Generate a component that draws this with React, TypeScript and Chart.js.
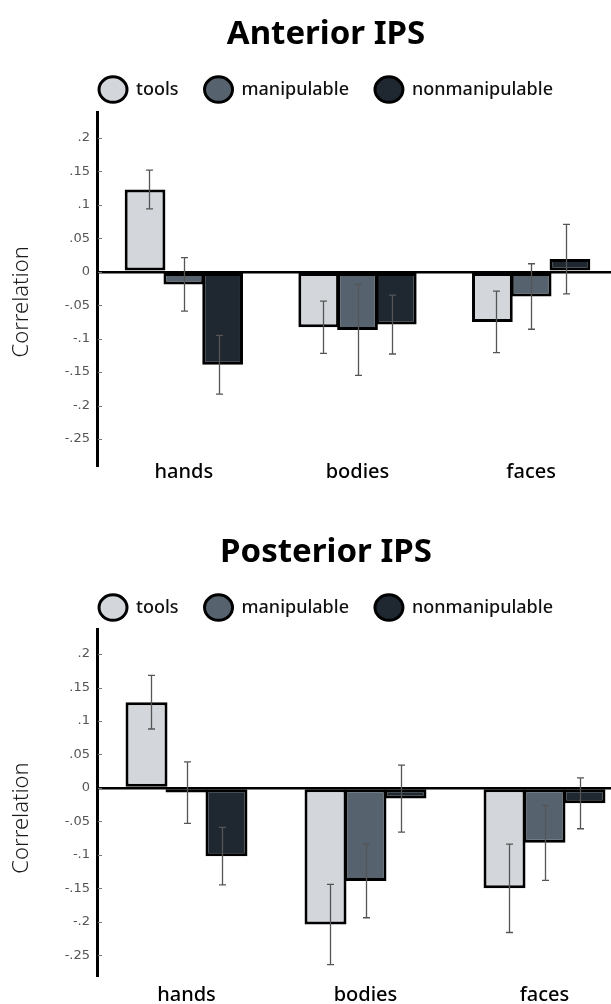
import React, { useEffect, useRef } from 'react';
import { Chart, registerables } from 'chart.js';

Chart.register(...registerables);

// ---------- data ----------
const categories = ['hands', 'bodies', 'faces'];
const seriesNames = ['tools', 'manipulable', 'nonmanipulable'];

const anteriorTools = [0.123, -0.083, -0.075];
const anteriorManipulable = [-0.019, -0.087, -0.037];
const anteriorNonmanipulable = [-0.139, -0.079, 0.019];
const anteriorToolsErr = [0.029, 0.039, 0.046];
const anteriorManipulableErr = [0.040, 0.068, 0.049];
const anteriorNonmanipulableErr = [0.044, 0.044, 0.052];

const posteriorTools = [0.128, -0.204, -0.150];
const posteriorManipulable = [-0.007, -0.139, -0.082];
const posteriorNonmanipulable = [-0.102, -0.016, -0.023];
const posteriorToolsErr = [0.040, 0.060, 0.066];
const posteriorManipulableErr = [0.046, 0.055, 0.056];
const posteriorNonmanipulableErr = [0.043, 0.050, 0.038];

const yTickValues = [-0.25, -0.2, -0.15, -0.1, -0.05, 0, 0.05, 0.1, 0.15, 0.2];
const yTickLabels = ['-.25', '-.2', '-.15', '-.1', '-.05', '0', '.05', '.1', '.15', '.2'];

const yTitle = 'Correlation';

// ---------- styles ----------
const seriesColors = ['#d3d6db', '#56636f', '#1f2731'];
const FONT = 'Noto Sans';
const CANVAS_W = 652;
const BAR_PCT = 1.05;
const CAT_PCT = 0.67;

type PanelProps = {
  title: string;
  values: number[][];
  errors: number[][];
  yMin: number;
  yMax: number;
  top: number;
  height: number;
  rightGap: number;
  bottomPad: number;
  xLabelPad: number;
  spacer: number;
  axisExtend: number;
};

function Panel(p: PanelProps) {
  const ref = useRef<HTMLCanvasElement | null>(null);

  useEffect(() => {
    const canvas = ref.current;
    if (!canvas) return;

    const extras = {
      id: 'extras',
      afterDatasetsDraw(chart: any) {
        const ctx = chart.ctx;
        const yScale = chart.scales.y;
        ctx.save();
        ctx.strokeStyle = '#555';
        ctx.lineWidth = 1.3;
        p.values.forEach((series, i) => {
          const meta = chart.getDatasetMeta(i);
          const shift = (1 - i) * 4;
          meta.data.forEach((bar: any, j: number) => {
            const v = series[j];
            const e = p.errors[i][j];
            const x = Math.round(bar.x + shift) + 0.5;
            const y1 = yScale.getPixelForValue(v + e);
            const y2 = yScale.getPixelForValue(v - e);
            ctx.beginPath();
            ctx.moveTo(x, y1);
            ctx.lineTo(x, y2);
            ctx.moveTo(x - 3.5, y1);
            ctx.lineTo(x + 3.5, y1);
            ctx.moveTo(x - 3.5, y2);
            ctx.lineTo(x + 3.5, y2);
            ctx.stroke();
          });
        });
        ctx.restore();
      },
      afterDraw(chart: any) {
        const ctx = chart.ctx;
        const yScale = chart.scales.y;
        const { left, bottom } = chart.chartArea;
        ctx.save();
        // small inner tick marks on the y axis
        ctx.strokeStyle = '#777';
        ctx.lineWidth = 1;
        yTickValues.forEach((v) => {
          const y = Math.round(yScale.getPixelForValue(v)) + 0.5;
          ctx.beginPath();
          ctx.moveTo(left + 1, y);
          ctx.lineTo(left + 5, y);
          ctx.stroke();
        });
        // y axis line continues a little below the plot
        if (p.axisExtend > 0) {
          const ax = Math.round(left - 1.5) + 1.5;
          ctx.strokeStyle = '#000';
          ctx.lineWidth = 3;
          ctx.beginPath();
          ctx.moveTo(ax, bottom - 1);
          ctx.lineTo(ax, bottom + p.axisExtend);
          ctx.stroke();
        }
        // axis title
        ctx.translate(22, yScale.getPixelForValue(-0.045));
        ctx.rotate(-Math.PI / 2);
        ctx.textAlign = 'center';
        ctx.textBaseline = 'middle';
        ctx.fillStyle = '#1a1a1a';
        ctx.font = `300 22px "${FONT}"`;
        ctx.fillText(yTitle, 0, 0);
        ctx.restore();
      },
    };

    const chart = new Chart(canvas, {
      type: 'bar',
      data: {
        labels: categories,
        datasets: seriesNames.map((name, i) => ({
          label: name,
          data: p.values[i],
          backgroundColor: seriesColors[i],
          borderColor: '#000',
          borderWidth: 3,
          borderSkipped: false,
          inflateAmount: 0,
          barPercentage: BAR_PCT,
          categoryPercentage: CAT_PCT,
        })),
      },
      options: {
        responsive: false,
        animation: false,
        events: [],
        datasets: { bar: { barPercentage: BAR_PCT, categoryPercentage: CAT_PCT } },
        layout: { padding: { top: 8, right: 0, bottom: p.bottomPad, left: 0 } },
        plugins: {
          title: {
            display: true,
            text: p.title,
            color: '#000',
            font: { family: FONT, size: 33, weight: 'bold' },
            padding: { top: 7, bottom: 0 },
          },
          subtitle: {
            display: true,
            text: '',
            weight: 500,
            font: { size: 1, lineHeight: 1 },
            padding: { top: p.spacer, bottom: 0 },
          },
          legend: {
            display: true,
            labels: {
              usePointStyle: true,
              pointStyle: 'circle',
              pointStyleWidth: 28,
              boxHeight: 18,
              padding: 26,
              color: '#111',
              font: { family: FONT, size: 18, weight: '500' },
            },
          },
          tooltip: { enabled: false },
        },
        scales: {
          x: {
            grid: { display: false },
            border: { display: false },
            ticks: {
              color: '#000',
              font: { family: FONT, size: 20, weight: '500' },
              padding: p.xLabelPad,
            },
            afterFit: (s: any) => {
              s.height = 34;
            },
          },
          y: {
            min: p.yMin,
            max: p.yMax,
            afterBuildTicks: (s: any) => {
              s.ticks = yTickValues.map((v) => ({ value: v }));
            },
            afterFit: (s: any) => {
              s.width = 97;
              s.paddingTop = 0;
              s.paddingBottom = 0;
            },
            ticks: {
              color: '#555',
              padding: 7,
              font: { family: 'DejaVu Sans', size: 13 },
              callback: (v: any) => {
                const idx = yTickValues.findIndex((t) => Math.abs(t - Number(v)) < 1e-9);
                return idx >= 0 ? yTickLabels[idx] : '';
              },
            },
            grid: {
              drawTicks: false,
              color: (c: any) => (c.tick && Math.abs(c.tick.value) < 1e-9 ? '#000' : 'rgba(0,0,0,0)'),
              lineWidth: (c: any) => (c.tick && Math.abs(c.tick.value) < 1e-9 ? 2.5 : 1),
            },
            border: { display: true, color: '#000', width: 3 },
          },
          gapRight: {
            type: 'linear',
            position: 'right',
            display: true,
            ticks: { display: false },
            grid: { display: false },
            border: { display: false },
            afterFit: (s: any) => {
              s.width = p.rightGap;
            },
          },
        },
      },
      plugins: [extras],
    } as any);

    return () => chart.destroy();
  }, []);

  return (
    <canvas
      ref={ref}
      width={CANVAS_W}
      height={p.height}
      style={{ position: 'absolute', left: 0, top: p.top }}
    />
  );
}

export default function App() {
  return (
    <div
      style={{
        position: 'fixed',
        left: 0,
        top: 0,
        width: '100vw',
        height: '100vh',
        overflow: 'hidden',
        background: '#fff',
      }}
    >
      <Panel
        title="Anterior IPS"
        values={[anteriorTools, anteriorManipulable, anteriorNonmanipulable]}
        errors={[anteriorToolsErr, anteriorManipulableErr, anteriorNonmanipulableErr]}
        yMin={-0.28}
        yMax={0.238}
        top={0}
        height={517}
        rightGap={34}
        bottomPad={24}
        xLabelPad={-7}
        spacer={3}
        axisExtend={8}
      />
      <Panel
        title="Posterior IPS"
        values={[posteriorTools, posteriorManipulable, posteriorNonmanipulable]}
        errors={[posteriorToolsErr, posteriorManipulableErr, posteriorNonmanipulableErr]}
        yMin={-0.281}
        yMax={0.2365}
        top={518}
        height={500}
        rightGap={18}
        bottomPad={8}
        xLabelPad={-1}
        spacer={2}
        axisExtend={0}
      />
    </div>
  );
}
